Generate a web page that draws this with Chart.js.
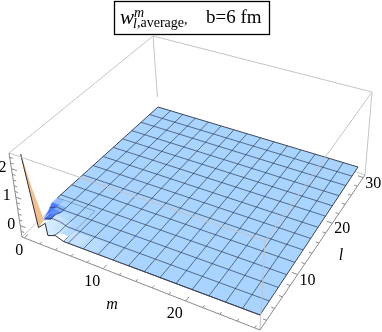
<!DOCTYPE html>
<html>
<head>
<meta charset="utf-8">
<style>
html, body { margin: 0; padding: 0; background: #fff; }
#plot { display: block; filter: blur(0.35px); }
</style>
<script src="https://cdn.jsdelivr.net/npm/chart.js@4/dist/chart.umd.min.js"></script>
</head>
<body>
<canvas id="plot" width="382" height="332"></canvas>
<script>
// Values
const mTicks = [0, 10, 20];
const lTicks = [10, 20, 30];
const zTicks = [0, 1, 2];
const mMinorTicks = [2, 4, 6, 8, 12, 14, 16, 18, 22, 24, 26, 28];
const lMinorTicks = [2, 4, 6, 8, 12, 14, 16, 18, 22, 24, 26, 28];
const zMinorTicks = [-0.2, 0.2, 0.4, 0.6, 0.8, 1.2, 1.4, 1.6, 1.8, 2.2, 2.4];

// Mesh lines of the surface
const meshM = [1.9, 3.75, 5.6, 7.5, 9.35, 11.2, 13.05, 14.95, 16.8, 18.65, 20.5, 22.4, 24.25, 26.1];
const meshL = [3.25, 5.5, 7.7, 9.9, 12.2, 14.4, 16.6, 18.9, 21.1, 23.3, 25.6, 27.8];

// Surface height near the corner, everything further out is about 0
const cornerM = [0, 1, 2, 3, 4, 5];
const cornerL = [1, 2, 3, 4, 5, 6, 7];
const cornerZ = [
    [0, 0, 0.3, 0, 0.1, 0],
    [2.4, -0.1, 0.15, 0.05, 0, 0],
    [0.95, 0, 0.1, 0.1, 0, 0],
    [-0.3, 0.05, 0.1, 0.05, 0, 0],
    [-0.2, 0.05, 0, 0, 0, 0],
    [0, 0, 0, 0, 0, 0],
    [0, 0, 0, 0, 0, 0]
];

// Outline of the flat part
const flatM = [0, 0, 28, 28, 5, 5, 0];
const flatL = [7, 30, 30, 1, 1, 7, 7];

// Which corner cells are drawn, back to front, and their shade
const patchM = [0, 1, 2, 3, 4, 0, 1, 2, 3, 4, 0, 1, 2, 3, 4, 1, 2, 3, 4, 0, 2, 3, 4, 3];
const patchL = [6, 6, 6, 6, 6, 5, 5, 5, 5, 5, 4, 4, 4, 4, 4, 3, 3, 3, 3, 3, 2, 2, 2, 1];
const patchColors = [
    '#8fbfff', '#a8d4ff', '#a8d4ff', '#a8d4ff', '#a8d4ff',
    '#4a78ff', '#7fb0ff', '#a8d4ff', '#a8d4ff', '#a8d4ff',
    '#3560f5', '#5f8fff', '#b8dcff', '#b0d8ff', '#a8d4ff',
    '#4a78f8', '#c8e4ff', '#bcdfff', '#acd6ff',
    '#c4dcdc',
    '#d2eaff', '#c8e4ff', '#b8dcff', '#d4ebff'
];
const ribbonColor = '#f3bf8d';

// Paler strip along the front edge next to the corner
const glowM = [5, 7, 9, 11];
const glowColors = ['#c4e2ff', '#b8dcff', '#b0d8ff', '#acd6ff'];

// Camera: where the box corners and the z=0 plane land in the window
const boxM = [-0.3, 28.6];
const boxL = [0.4, 30.6];
const boxZ = [-0.4, 2.55];
const surfM = [0, 28];
const surfL = [1, 30];

// Small x shift of each m label from its tick
const mLabelShift = [-5, -11, -11];

function quadMap(p0, p1, p2, p3) {
    const dx1 = p1[0] - p2[0], dx2 = p3[0] - p2[0], sx = p0[0] - p1[0] + p2[0] - p3[0];
    const dy1 = p1[1] - p2[1], dy2 = p3[1] - p2[1], sy = p0[1] - p1[1] + p2[1] - p3[1];
    const den = dx1 * dy2 - dx2 * dy1;
    const g = (sx * dy2 - dx2 * sy) / den;
    const h = (dx1 * sy - sx * dy1) / den;
    const a = p1[0] - p0[0] + g * p1[0], b = p3[0] - p0[0] + h * p3[0];
    const d = p1[1] - p0[1] + g * p1[1], e = p3[1] - p0[1] + h * p3[1];
    return function(u, v) {
        const w = g * u + h * v + 1;
        return [(a * u + b * v + p0[0]) / w, (d * u + e * v + p0[1]) / w];
    };
}

const bottomMap = quadMap([22, 237], [260, 330], [365, 175], [158, 105]);
const topMap = quadMap([9, 153], [265, 241], [372, 92], [153, 36]);
const planeMap = quadMap([25, 227], [260, 315], [358, 167], [158, 107]);

function boxPoint(m, l, z) {
    const u = (m - boxM[0]) / (boxM[1] - boxM[0]);
    const v = (l - boxL[0]) / (boxL[1] - boxL[0]);
    const t = (z - boxZ[0]) / (boxZ[1] - boxZ[0]);
    const b = bottomMap(u, v), a = topMap(u, v);
    return { x: b[0] + (a[0] - b[0]) * t, y: b[1] + (a[1] - b[1]) * t };
}

function surfPoint(m, l, z) {
    const u = (m - surfM[0]) / (surfM[1] - surfM[0]);
    const v = (l - surfL[0]) / (surfL[1] - surfL[0]);
    const p = planeMap(u, v);
    const up0 = boxPoint(m, l, 0), up1 = boxPoint(m, l, 1);
    return { x: p[0] + (up1.x - up0.x) * z, y: p[1] + (up1.y - up0.y) * z };
}

function cornerPoint(i, j) {
    return surfPoint(cornerM[i], cornerL[j], cornerZ[j][i]);
}

// height under a mesh line, from the corner table
function heightAt(m, l) {
    if (m >= 5 || l >= 7) return 0;
    const i = Math.floor(m), j = Math.floor(l) - 1;
    const a = m - i, b = l - 1 - j;
    const z0 = cornerZ[j][i] * (1 - a) + cornerZ[j][i + 1] * a;
    const z1 = cornerZ[j + 1][i] * (1 - a) + cornerZ[j + 1][i + 1] * a;
    return z0 * (1 - b) + z1 * b;
}

function line(points, color, width) {
    return { data: points, showLine: true, fill: false, borderColor: color, borderWidth: width, pointRadius: 0, tension: 0 };
}

function shape(points, color, edge, width) {
    return { data: points, showLine: true, fill: 'shape', backgroundColor: color, borderColor: edge, borderWidth: width, pointRadius: 0, tension: 0 };
}

const boxColor = '#c4c4c4';
const tickColor = '#8a8a8a';
const meshColor = 'rgba(30,40,60,0.72)';
const surfaceColor = '#a8d4ff';

const [mA, mB] = boxM, [lA, lB] = boxL, [zA, zB] = boxZ;
const layers = [];

// back edges of the box, they sit behind the surface
layers.push(line([boxPoint(mA, lB, -0.05), boxPoint(mA, lB, zB)], boxColor, 1));
layers.push(line([boxPoint(mA, lA, zB), boxPoint(mA, lB, zB), boxPoint(mB, lB, zB)], boxColor, 1));
layers.push(line([boxPoint(mA, lA, zA), boxPoint(mA, 6, zA)], boxColor, 1));
layers.push(line([boxPoint(26, lB, zA), boxPoint(mB, lB, zA)], boxColor, 1));

// flat part of the surface
layers.push(shape(flatM.map((m, i) => surfPoint(m, flatL[i], 0)), surfaceColor, '#3d4658', 1));

// paler strip along the front edge
glowM.forEach(function(m, n) {
    const next = n + 1 < glowM.length ? glowM[n + 1] : 13;
    const pts = [surfPoint(m, 1, 0), surfPoint(next, 1, 0), surfPoint(next, 3, 0), surfPoint(m, 3, 0)];
    pts.push(pts[0]);
    layers.push(shape(pts, glowColors[n], glowColors[n], 0));
});
layers.push(line([surfPoint(5, 1, 0), surfPoint(28, 1, 0)], '#3d4658', 1));

// corner cells with the peak
patchM.forEach(function(m, n) {
    const i = cornerM.indexOf(m), j = cornerL.indexOf(patchL[n]);
    const pts = m === 3 && patchL[n] === 1
        ? [cornerPoint(i, j), cornerPoint(i + 1, j), cornerPoint(i + 1, j + 1), cornerPoint(i - 1, j + 1), cornerPoint(i, j)]
        : [cornerPoint(i, j), cornerPoint(i + 1, j), cornerPoint(i + 1, j + 1), cornerPoint(i, j + 1), cornerPoint(i, j)];
    layers.push(shape(pts, patchColors[n], patchColors[n], 0.5));
});
// peak ribbon
layers.push(shape([cornerPoint(0, 1), cornerPoint(1, 1), cornerPoint(1, 2), cornerPoint(0, 2), cornerPoint(0, 1)], ribbonColor, ribbonColor, 0.5));
layers.push(line([cornerPoint(0, 1), cornerPoint(1, 1), cornerPoint(2, 1), cornerPoint(3, 0), cornerPoint(4, 0), cornerPoint(5, 0)], '#2d3038', 1));

// mesh, with stops through the corner table where it bends
meshM.forEach(function(m) {
    const lowest = m < 2 ? 3 : m < 3 ? 2 : 1;
    const stops = cornerL.filter(l => l > lowest).map(l => surfPoint(m, l, heightAt(m, l)));
    layers.push(line([surfPoint(m, lowest, heightAt(m, lowest))].concat(stops, [surfPoint(m, 30, 0)]), meshColor, 0.85));
});
meshL.forEach(function(l) {
    const lowest = l < 3.5 ? 1 : 0;
    const stops = cornerM.filter(m => m > lowest).map(m => surfPoint(m, l, heightAt(m, l)));
    layers.push(line([surfPoint(lowest, l, heightAt(lowest, l))].concat(stops, [surfPoint(28, l, 0)]), meshColor, 0.85));
});

// front edges of the box
layers.push(line([boxPoint(mA, lA, zB), boxPoint(mB, lA, zB), boxPoint(mB, lB, zB)], boxColor, 1));
layers.push(line([boxPoint(mB, lA, zB), boxPoint(mB, lA, zA)], boxColor, 1));
layers.push(line([boxPoint(mA, lA, zA), boxPoint(mA, lA, zB)], tickColor, 1));
layers.push(line([boxPoint(mB, lB, zA), boxPoint(mB, lB, zB)], boxColor, 1));
layers.push(line([boxPoint(mA, lA, zA), boxPoint(mB, lA, zA), boxPoint(mB, lB, zA)], tickColor, 1));

// axis ticks
mTicks.forEach(m => layers.push(line([boxPoint(m, lA, zA), boxPoint(m, lA + 0.7, zA)], tickColor, 1)));
mMinorTicks.forEach(m => layers.push(line([boxPoint(m, lA, zA), boxPoint(m, lA + 0.4, zA)], tickColor, 1)));
lTicks.forEach(l => layers.push(line([boxPoint(mB, l, zA), boxPoint(mB - 0.7, l, zA)], tickColor, 1)));
lMinorTicks.forEach(l => layers.push(line([boxPoint(mB, l, zA), boxPoint(mB - 0.4, l, zA)], tickColor, 1)));
zTicks.forEach(z => layers.push(line([boxPoint(mA, lA, z), boxPoint(mA + 0.7, lA, z)], tickColor, 1)));
zMinorTicks.forEach(z => layers.push(line([boxPoint(mA, lA, z), boxPoint(mA + 0.4, lA, z)], tickColor, 1)));

const serif = '"Liberation Serif"';

function put(ctx, text, x, y, font, align) {
    ctx.font = font;
    ctx.textAlign = align || 'center';
    ctx.fillText(text, x, y);
}

// tick labels, axis names and the boxed title
const labelsPlugin = {
    id: 'labels',
    afterDatasetsDraw(chart) {
        const ctx = chart.ctx;
        const px = p => [chart.scales.x.getPixelForValue(p.x), chart.scales.y.getPixelForValue(p.y)];
        ctx.save();
        ctx.fillStyle = '#000';
        ctx.textBaseline = 'alphabetic';
        mTicks.forEach(function(m, i) {
            const p = px(boxPoint(m, lA, zA));
            put(ctx, String(m), p[0] + mLabelShift[i], p[1] + 17, '16px ' + serif);
        });
        lTicks.forEach(function(l) {
            const p = px(boxPoint(mB, l, zA));
            put(ctx, String(l), p[0] + 10, p[1] + 10, '16px ' + serif);
        });
        zTicks.forEach(function(z) {
            const p = px(boxPoint(mA, lA, z));
            put(ctx, String(z), p[0] - 9, p[1] + 3, '16px ' + serif);
        });
        put(ctx, 'm', 112, 309, 'italic 16px ' + serif);
        put(ctx, 'l', 341, 260, 'italic 16px ' + serif);

        ctx.fillStyle = '#fff';
        ctx.fillRect(114.5, 1.5, 155, 33);
        ctx.strokeStyle = '#000';
        ctx.lineWidth = 1.3;
        ctx.strokeRect(114.5, 1.5, 155, 33);
        ctx.fillStyle = '#000';
        put(ctx, 'w', 120, 24, 'italic 21px ' + serif, 'left');
        put(ctx, 'm', 134, 17, 'italic 14px ' + serif, 'left');
        put(ctx, 'l', 133, 28, 'italic 14px ' + serif, 'left');
        put(ctx, ',average', 137, 27, '14px ' + serif, 'left');
        put(ctx, ',', 184, 24, '14px ' + serif, 'left');
        put(ctx, 'b=6 fm', 206, 23, '19px ' + serif, 'left');
        ctx.restore();
    }
};

new Chart(document.getElementById('plot'), {
    type: 'scatter',
    // first dataset is painted last in Chart.js
    data: { datasets: layers.reverse() },
    options: {
        responsive: false,
        animation: false,
        layout: { padding: 0 },
        plugins: { legend: { display: false }, title: { display: false }, tooltip: { enabled: false } },
        scales: {
            x: { type: 'linear', display: false, min: 0, max: 382 },
            y: { type: 'linear', display: false, min: 0, max: 332, reverse: true }
        }
    },
    plugins: [labelsPlugin]
});
</script>
</body>
</html>
